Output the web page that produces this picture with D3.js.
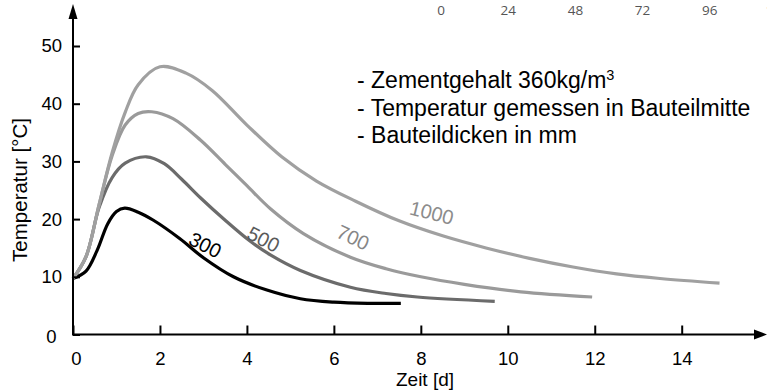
<!DOCTYPE html>
<html>
<head>
<meta charset="utf-8">
<script src="https://cdn.jsdelivr.net/npm/d3@7"></script>
<style>
  body { margin: 0; background: #fff; }
  svg { display: block; font-family: "Liberation Sans", Arial, sans-serif; }
</style>
</head>
<body>
<svg id="chart" width="767" height="392"></svg>
<script>
// data
const xTicks = [0, 2, 4, 6, 8, 10, 12, 14];
const yTicks = [0, 10, 20, 30, 40, 50];
const topTicks = [0, 24, 48, 72, 96, 120];   // stray labels of a neighbouring chart

const thickness = ["300", "500", "700", "1000"];

const days300 = [0, 0.3, 0.55, 0.8, 1.0, 1.19, 1.5, 1.85, 2.46, 3.0, 3.69, 4.46, 5.23, 6.0, 6.8, 7.54];
const temp300 = [9.7, 11.0, 14.5, 19.2, 21.3, 21.9, 21.2, 19.8, 16.6, 13.3, 10.0, 7.7, 6.2, 5.6, 5.4, 5.4];

const days500 = [0, 0.3, 0.6, 0.9, 1.2, 1.69, 2.1, 2.5, 2.93, 3.5, 4.07, 4.54, 5.23, 6.38, 7.2, 7.92, 9.7];
const temp500 = [9.7, 13.5, 22.0, 27.2, 29.7, 30.8, 29.6, 26.9, 23.7, 19.8, 16.2, 13.8, 11.1, 8.2, 7.1, 6.5, 5.75];

const days700 = [0, 0.3, 0.6, 0.9, 1.2, 1.5, 1.81, 2.3, 2.93, 3.5, 4.0, 4.54, 5.3, 6.38, 7.2, 8.0, 9.0, 10.3, 11.94];
const temp700 = [9.7, 13.5, 22.5, 31.0, 36.3, 38.3, 38.6, 37.4, 33.7, 29.5, 25.8, 21.8, 17.5, 13.4, 11.4, 10.0, 8.7, 7.4, 6.5];

const days1000 = [0, 0.3, 0.6, 0.9, 1.2, 1.5, 2.0, 2.6, 3.2, 4.0, 4.8, 5.6, 6.5, 7.5, 8.5, 9.5, 10.5, 11.5, 12.5, 13.5, 14.87];
const temp1000 = [9.7, 13.5, 22.5, 31.5, 38.5, 43.3, 46.4, 45.3, 42.3, 36.3, 30.8, 26.6, 23.1, 19.7, 17.1, 15.0, 13.2, 11.7, 10.5, 9.7, 8.9];

const notes = ["- Zementgehalt 360kg/m", "- Temperatur gemessen in Bauteilmitte", "- Bauteildicken in mm"];

const series = [
    { name: "300",  days: days300,  temp: temp300,  color: "#000000", text: "#000000", at: [3.04, 15.5], angle: 27 },
    { name: "500",  days: days500,  temp: temp500,  color: "#6b6b6b", text: "#5a5a5a", at: [4.38, 16.5], angle: 27 },
    { name: "700",  days: days700,  temp: temp700,  color: "#9a9a9a", text: "#868686", at: [6.44, 16.8], angle: 25 },
    { name: "1000", days: days1000, temp: temp1000, color: "#a0a0a0", text: "#8c8c8c", at: [8.25, 21.1], angle: 14 }
];

// size and scales
const svg = d3.select("#chart");
const xScale = d3.scaleLinear().domain([0, 14]).range([73, 681.7]);
const yScale = d3.scaleLinear().domain([0, 50]).range([334.5, 46]);
const x0 = xScale(0), y0 = yScale(0);

// curves
const line = d3.line()
    .x(d => xScale(d[0]))
    .y(d => yScale(d[1]))
    .curve(d3.curveCatmullRom.alpha(0.5));

const curves = svg.append("g").attr("class", "curves");
curves.selectAll("path")
    .data(series)
    .enter()
    .append("path")
    .attr("d", s => line(s.days.map((d, i) => [d, s.temp[i]])))
    .attr("fill", "none")
    .attr("stroke", s => s.color)
    .attr("stroke-width", 3.2);

curves.selectAll("text")
    .data(series)
    .enter()
    .append("text")
    .attr("transform", s => `translate(${xScale(s.at[0])},${yScale(s.at[1])}) rotate(${s.angle})`)
    .attr("text-anchor", "middle")
    .attr("dy", "0.35em")
    .attr("font-size", 20)
    .attr("fill", s => s.text)
    .text(s => s.name);

// axes
const xAxis = d3.axisBottom(xScale)
    .tickValues(xTicks)
    .tickSizeInner(-9)
    .tickSizeOuter(0)
    .tickPadding(17);

const yAxis = d3.axisLeft(yScale)
    .tickValues(yTicks)
    .tickSizeInner(-7)
    .tickSizeOuter(0)
    .tickPadding(11);

const gx = svg.append("g")
    .attr("transform", `translate(0,${y0})`)
    .call(xAxis);
const gy = svg.append("g")
    .attr("transform", `translate(${x0},0)`)
    .call(yAxis);

[gx, gy].forEach(g => {
    g.select(".domain").remove();
    g.selectAll(".tick line").attr("stroke", "#000").attr("stroke-width", 2);
    g.selectAll(".tick text")
        .attr("font-family", "Liberation Sans, Arial, sans-serif")
        .attr("font-size", 18.5)
        .attr("fill", "#000");
});
gx.selectAll(".tick text").filter(d => d === 0).attr("dx", 3);
gy.selectAll(".tick text").filter(d => d === 0).attr("dx", -5.5).attr("dy", "0.42em");

// axis lines with arrow heads
svg.append("line")
    .attr("x1", x0).attr("x2", 756).attr("y1", y0).attr("y2", y0)
    .attr("stroke", "#000").attr("stroke-width", 2);
svg.append("path")
    .attr("d", `M754,${y0 - 5}L767,${y0}L754,${y0 + 5}Z`)
    .attr("fill", "#000");
svg.append("line")
    .attr("x1", x0).attr("x2", x0).attr("y1", y0 + 1).attr("y2", 16)
    .attr("stroke", "#000").attr("stroke-width", 2);
svg.append("path")
    .attr("d", `M${x0 - 4.5},19L${x0},4L${x0 + 4.5},19Z`)
    .attr("fill", "#000");

// axis titles
svg.append("text")
    .attr("x", 425).attr("y", 386)
    .attr("text-anchor", "middle")
    .attr("font-size", 19)
    .text("Zeit [d]");
svg.append("text")
    .attr("transform", "translate(27,190) rotate(-90)")
    .attr("text-anchor", "middle")
    .attr("font-size", 20.5)
    .text("Temperatur [°C]");

// notes
const noteText = svg.append("text")
    .attr("font-size", 23)
    .attr("fill", "#000");
noteText.selectAll("tspan")
    .data(notes)
    .enter()
    .append("tspan")
    .attr("x", 357)
    .attr("y", (d, i) => 88 + i * 27.5)
    .text(d => d);
noteText.select("tspan")
    .append("tspan")
    .attr("font-size", 14.5)
    .attr("dy", -8)
    .text("3");

// stray labels along the top edge
const topScale = d3.scaleLinear().domain([0, 120]).range([441, 777]);
svg.append("g")
    .selectAll("text")
    .data(topTicks)
    .enter()
    .append("text")
    .attr("x", d => topScale(d))
    .attr("y", 15)
    .attr("text-anchor", "middle")
    .attr("font-family", "Open Sans, sans-serif")
    .attr("font-size", 13.5)
    .attr("fill", "#555")
    .text(d => d);
</script>
</body>
</html>
